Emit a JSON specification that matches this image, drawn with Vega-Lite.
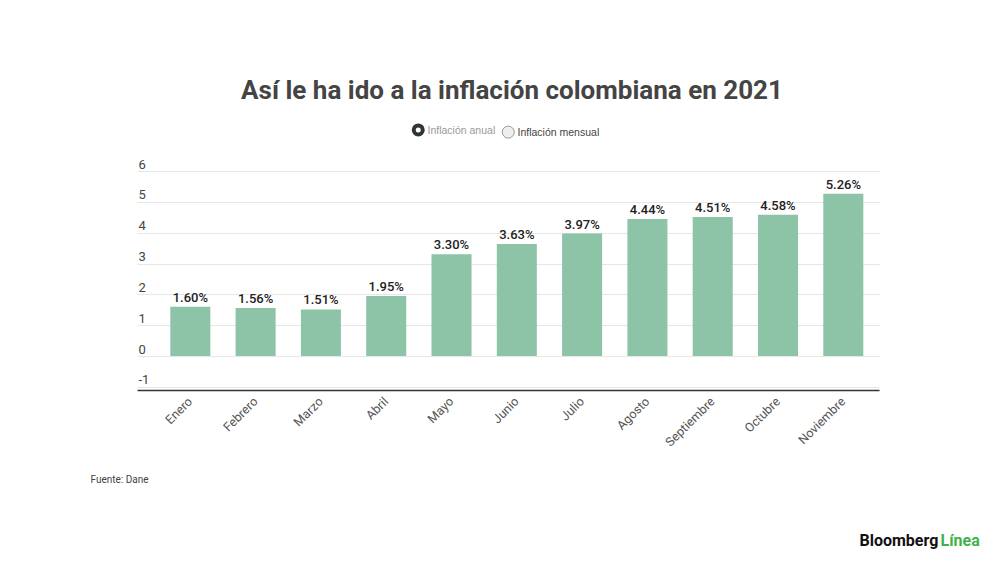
{
  "$schema": "https://vega.github.io/schema/vega-lite/v6.json",
  "width": 742,
  "height": 219,
  "autosize": {"type": "none"},
  "padding": {"left": 137, "top": 171, "right": 121, "bottom": 172},
  "background": "white",
  "config": {"view": {"stroke": null}},
  "title": {
    "text": "Así le ha ido a la inflación colombiana en 2021",
    "anchor": "middle",
    "frame": "group",
    "offset": 0,
    "baseline": "alphabetic",
    "font": "Roboto",
    "fontSize": 26,
    "fontWeight": "bold",
    "color": "#444444",
    "dx": 4
  },
  "data": {
    "values": [
      {"mes": "Enero", "valor": 1.60, "serie": "Inflación anual"},
      {"mes": "Febrero", "valor": 1.56, "serie": "Inflación anual"},
      {"mes": "Marzo", "valor": 1.51, "serie": "Inflación anual"},
      {"mes": "Abril", "valor": 1.95, "serie": "Inflación anual"},
      {"mes": "Mayo", "valor": 3.30, "serie": "Inflación anual"},
      {"mes": "Junio", "valor": 3.63, "serie": "Inflación anual"},
      {"mes": "Julio", "valor": 3.97, "serie": "Inflación anual"},
      {"mes": "Agosto", "valor": 4.44, "serie": "Inflación anual"},
      {"mes": "Septiembre", "valor": 4.51, "serie": "Inflación anual"},
      {"mes": "Octubre", "valor": 4.58, "serie": "Inflación anual"},
      {"mes": "Noviembre", "valor": 5.26, "serie": "Inflación anual"}
    ]
  },
  "transform": [
    {"calculate": "format(datum.valor, '.2f') + '%'", "as": "etiqueta"}
  ],
  "encoding": {
    "x": {
      "field": "mes",
      "type": "nominal",
      "sort": null,
      "scale": {"paddingInner": 0.387, "paddingOuter": 0.375, "align": 0.68},
      "axis": {
        "title": "Fuente: Dane",
        "titleX": -47,
        "titleY": 89,
        "titleAlign": "left",
        "titleBaseline": "middle",
        "titleFont": "Roboto",
        "titleFontSize": 10,
        "titleFontWeight": "normal",
        "titleColor": "#444444",
        "labelAngle": -45,
        "labelAlign": "right",
        "labelBaseline": "middle",
        "labelPadding": 9,
        "labelFont": "Roboto",
        "labelFontSize": 12.5,
        "labelColor": "#555555",
        "ticks": false,
        "grid": false,
        "domain": true,
        "domainColor": "#333333",
        "domainWidth": 1.5
      }
    }
  },
  "layer": [
    {
      "mark": {"type": "bar"},
      "encoding": {
        "y2": {"datum": 0},
        "y": {
          "field": "valor",
          "type": "quantitative",
          "scale": {"domain": [-1.1, 6], "nice": false, "zero": false},
          "axis": {
            "values": [-1, 0, 1, 2, 3, 4, 5, 6],
            "labelExpr": "'' + datum.value",
            "grid": true,
            "gridColor": "#e6e6e6",
            "domain": false,
            "ticks": false,
            "tickSize": 0,
            "labelAlign": "left",
            "labelPadding": -1,
            "labelBaseline": "alphabetic",
            "labelOffset": -3,
            "labelFont": "Roboto",
            "labelFontSize": 13,
            "labelColor": "#444444",
            "title": "Bloomberg",
            "titleX": 722,
            "titleY": 369,
            "titleAngle": 0,
            "titleAlign": "left",
            "titleBaseline": "middle",
            "titleFont": "Roboto",
            "titleFontSize": 16,
            "titleFontWeight": "bold",
            "titleColor": "#111111"
          }
        },
        "color": {
          "field": "serie",
          "type": "nominal",
          "scale": {"domain": ["Inflación anual", "Inflación mensual"], "range": ["#8dc3a7", "#eeeeee"]},
          "legend": {
            "orient": "none",
            "legendX": 276,
            "legendY": -46.5,
            "direction": "horizontal",
            "title": null,
            "padding": 0,
            "symbolType": "circle",
            "symbolSize": 100,
            "labelFont": "Liberation Sans",
            "labelFontSize": 10.5,
            "labelOffset": 4,
            "columnPadding": 4,
            "encode": {
              "symbols": {
                "update": {
                  "fillOpacity": {"signal": "datum.value === 'Inflación anual' ? 0 : 1"},
                  "stroke": {"signal": "datum.value === 'Inflación anual' ? '#333333' : '#999999'"},
                  "strokeWidth": {"signal": "datum.value === 'Inflación anual' ? 4 : 1"},
                  "size": {"signal": "datum.value === 'Inflación anual' ? 81 : 144"},
                  "opacity": {"value": 1}
                }
              },
              "labels": {
                "update": {
                  "fill": {"signal": "datum.value === 'Inflación anual' ? '#999999' : '#444444'"},
                  "dy": {"value": 1}
                }
              }
            }
          }
        }
      }
    },
    {
      "mark": {
        "type": "text",
        "baseline": "alphabetic",
        "dy": -5,
        "font": "Roboto",
        "fontSize": 13,
        "fontWeight": 500,
        "color": "#222222"
      },
      "encoding": {
        "text": {"field": "etiqueta", "type": "nominal"},
        "y": {
          "field": "valor",
          "type": "quantitative",
          "scale": {"domain": [-1.1, 6], "nice": false, "zero": false},
          "axis": {
            "orient": "right",
            "labels": false,
            "grid": false,
            "domain": false,
            "ticks": false,
            "title": "Línea",
            "titleX": 61,
            "titleY": 369,
            "titleAngle": 0,
            "titleAlign": "left",
            "titleBaseline": "middle",
            "titleFont": "Roboto",
            "titleFontSize": 16,
            "titleFontWeight": "bold",
            "titleColor": "#3cb44a"
          }
        }
      }
    }
  ],
  "resolve": {"scale": {"y": "independent"}}
}
